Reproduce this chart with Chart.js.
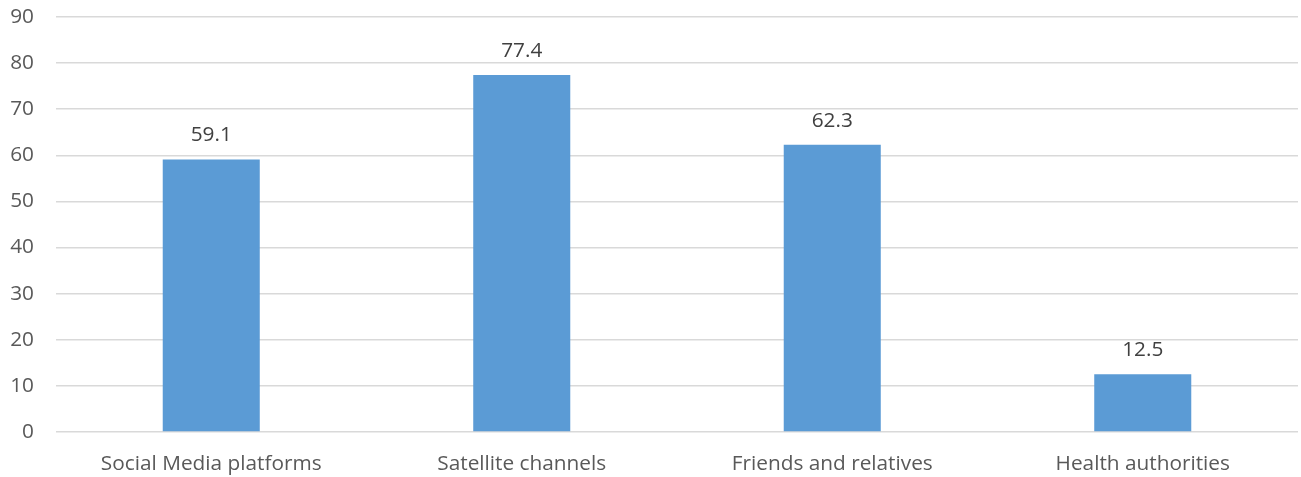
<!DOCTYPE html>
<html>
<head>
<meta charset="utf-8">
<script src="https://cdn.jsdelivr.net/npm/chart.js@4.4.1/dist/chart.umd.min.js"></script>
<style>
  html, body { margin: 0; padding: 0; background: #ffffff; }
  #wrap { width: 1301px; height: 477px; }
</style>
</head>
<body>
<div id="wrap"><canvas id="chart" width="1301" height="477"></canvas></div>
<script>
const categories = ["Social Media platforms", "Satellite channels", "Friends and relatives", "Health authorities"];
const values = [59.1, 77.4, 62.3, 12.5];
const yMin = 0;
const yMax = 90;
const yStep = 10;

const FONT = "'Open Sans', sans-serif";
const TEXT = "#595959";
const FONT_SIZE = 20.8;

// Writes each bar's value just above it
const valueLabels = {
  id: "valueLabels",
  afterDatasetsDraw(chart) {
    const ctx = chart.ctx;
    const meta = chart.getDatasetMeta(0);
    ctx.save();
    ctx.font = FONT_SIZE + "px " + FONT;
    ctx.fillStyle = "#404040";
    ctx.textAlign = "center";
    ctx.textBaseline = "alphabetic";
    meta.data.forEach((bar, i) => {
      ctx.fillText(values[i].toFixed(1), bar.x, bar.y - 18);
    });
    ctx.restore();
  }
};

new Chart(document.getElementById("chart"), {
  type: "bar",
  data: {
    labels: categories,
    datasets: [{
      data: values,
      backgroundColor: "#5b9bd5",
      borderWidth: 0,
      categoryPercentage: 1,
      barPercentage: 0.3125
    }]
  },
  options: {
    responsive: false,
    animation: false,
    plugins: { legend: { display: false }, tooltip: { enabled: false } },
    layout: { padding: { left: 0, right: 3, top: 17, bottom: 0 } },
    scales: {
      x: {
        grid: { display: false, drawTicks: false },
        border: { display: false },
        ticks: { color: TEXT, font: { family: FONT, size: FONT_SIZE }, padding: 20, maxRotation: 0 },
        afterFit(scale) {
          scale.height = 45;
          scale.paddingLeft = 0;
          scale.paddingRight = 0;
        }
      },
      y: {
        min: yMin,
        max: yMax,
        ticks: { stepSize: yStep, color: TEXT, font: { family: FONT, size: FONT_SIZE }, padding: 22 },
        grid: { color: "#d9d9d9", lineWidth: 1.5, drawTicks: false },
        border: { display: false },
        afterFit(scale) {
          scale.width = 56;
          scale.paddingTop = 0;
          scale.paddingBottom = 0;
        }
      }
    }
  },
  plugins: [valueLabels]
});
</script>
</body>
</html>
